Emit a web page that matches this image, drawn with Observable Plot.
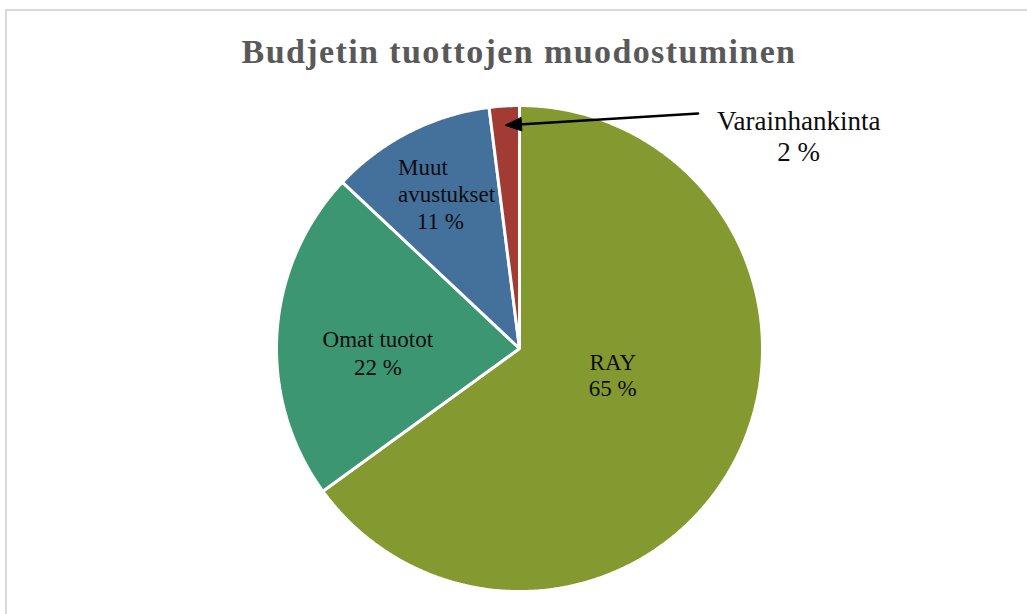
<!DOCTYPE html>
<html><head><meta charset="utf-8">
<script src="https://cdn.jsdelivr.net/npm/d3@7"></script>
<script src="https://cdn.jsdelivr.net/npm/@observablehq/plot@0.6"></script>
<style>
html,body{margin:0;padding:0;background:#fff;overflow:hidden;}
#wrap{position:relative;width:1027px;height:614px;overflow:hidden;}
#border{position:absolute;left:5px;top:9px;width:1100px;height:700px;border-top:2px solid #d9d9d9;border-left:2px solid #d9d9d9;}
#title{position:absolute;left:0;top:33px;width:1038px;text-align:center;font-family:"Liberation Serif",serif;font-weight:bold;font-size:34px;letter-spacing:1.4px;line-height:38px;color:#595959;}
#chart{position:absolute;left:0;top:0;}
</style></head>
<body>
<div id="wrap">
  <div id="border"></div>
  <div id="chart"></div>
  <div id="title">Budjetin tuottojen muodostuminen</div>
</div>
<script>
// ---- data ----
const categories = ["RAY", "Omat tuotot", "Muut avustukset", "Varainhankinta"];
const values = [65, 22, 11, 2];
const labelLines = [["RAY", "65 %"], ["Omat tuotot", "22 %"], ["Muut", "avustukset", "11 %"], ["Varainhankinta", "2 %"]];
const colors = ["#84992F", "#3D9672", "#44709C", "#A23B33"];

// ---- layout (data units: pie radius = 1) ----
const labelLayout = [
  [{x: 0.384, y: -0.058, a: "middle"}, {x: 0.384, y: -0.165, a: "middle"}],
  [{x: -0.583, y: 0.037, a: "middle"}, {x: -0.583, y: -0.079, a: "middle"}],
  [{x: -0.5, y: 0.744, a: "start"}, {x: -0.5, y: 0.632, a: "start"}, {x: -0.326, y: 0.521, a: "middle"}],
  [{x: 1.149, y: 0.934, a: "middle"}, {x: 1.149, y: 0.806, a: "middle"}]
];
const labelSizes = [23, 23, 23, 27];
const calloutTail = {x: 0.735, y: 0.967};

// ---- build slices ----
const total = d3.sum(values);
const slices = [];
let acc = 0;
categories.forEach((name, i) => {
  const a0 = acc / total * 2 * Math.PI;
  acc += values[i];
  const a1 = acc / total * 2 * Math.PI;
  slices.push({name, a0, a1, i});
});
const polyPts = [];
for (const s of slices) {
  polyPts.push({name: s.name, x: 0, y: 0});
  const n = Math.max(2, Math.ceil((s.a1 - s.a0) / (Math.PI / 360)));
  for (let k = 0; k <= n; k++) {
    const t = s.a0 + (s.a1 - s.a0) * k / n;
    polyPts.push({name: s.name, x: Math.sin(t), y: Math.cos(t)});
  }
}
const texts = [];
slices.forEach((s, i) => {
  labelLines[i].forEach((line, j) => {
    const L = labelLayout[i][j];
    texts.push({text: line, x: L.x, y: L.y, anchor: L.a, size: labelSizes[i]});
  });
});

// callout arrow to smallest slice
const small = slices[3];
const mid = (small.a0 + small.a1) / 2;
const tip = {x: 0.92 * Math.sin(mid), y: 0.92 * Math.cos(mid)};
const dx = tip.x - calloutTail.x, dy = tip.y - calloutTail.y;
const len = Math.hypot(dx, dy);
const ux = dx / len, uy = dy / len;
const headL = 0.066, headW = 0.027;
const base = {x: tip.x - ux * headL, y: tip.y - uy * headL};
const headPts = [
  {x: tip.x, y: tip.y},
  {x: base.x - uy * headW, y: base.y + ux * headW},
  {x: base.x + uy * headW, y: base.y - ux * headW}
];
const shaft = [{x: calloutTail.x, y: calloutTail.y}, {x: base.x + ux * 0.01, y: base.y + uy * 0.01}];

const cx = 519, cy = 348, R = 243;
const fontFam = "'Liberation Serif', serif";
const textMarks = [];
for (const anchor of ["start", "middle"]) {
  for (const size of [...new Set(labelSizes)]) {
    const sub = texts.filter(t => t.anchor === anchor && t.size === size);
    if (sub.length) textMarks.push(Plot.text(sub, {x: "x", y: "y", text: "text", textAnchor: anchor, fontSize: size, fontFamily: fontFam, fill: "#0d0d0d"}));
  }
}

const chart = Plot.plot({
  width: 1027, height: 614,
  margin: 0,
  x: {domain: [-1, 1], range: [cx - R, cx + R], axis: null},
  y: {domain: [-1, 1], range: [cy + R, cy - R], axis: null},
  color: {domain: categories, range: colors},
  style: {background: "transparent"},
  marks: [
    Plot.line(polyPts, {x: "x", y: "y", z: "name", fill: "name", stroke: "white", strokeWidth: 3, curve: "linear-closed", strokeLinejoin: "miter"}),
    ...textMarks,
    Plot.line(shaft, {x: "x", y: "y", stroke: "black", strokeWidth: 2.4}),
    Plot.line(headPts, {x: "x", y: "y", fill: "black", stroke: "black", strokeWidth: 1, curve: "linear-closed"})
  ]
});
document.getElementById("chart").appendChild(chart);
</script>
</body></html>
